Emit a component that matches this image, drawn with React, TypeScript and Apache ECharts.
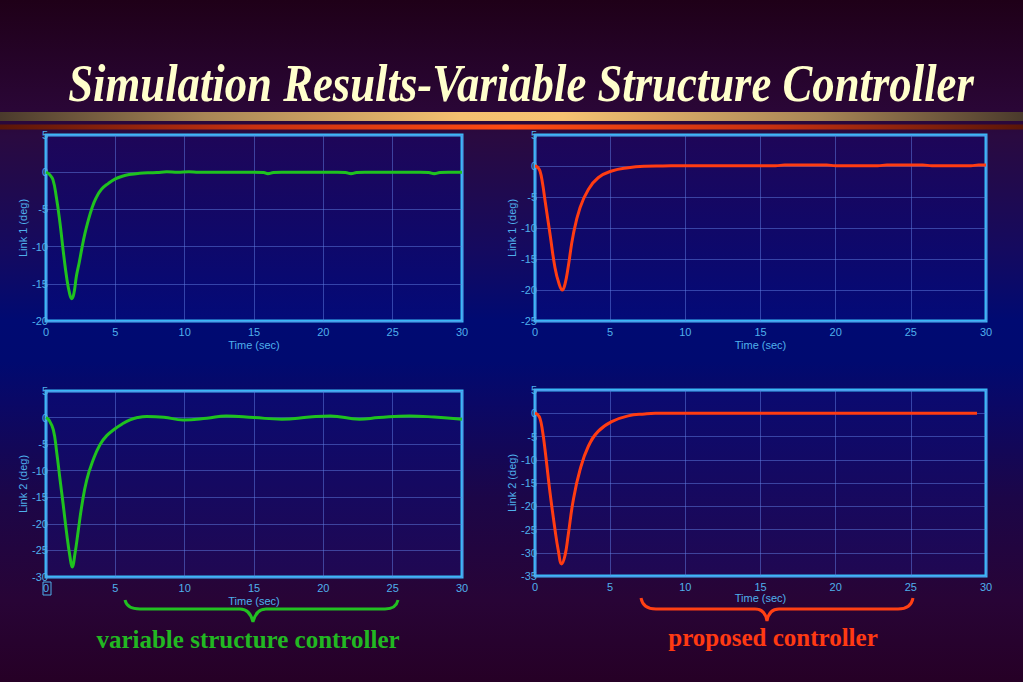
import React, { useEffect, useRef } from "react";
import * as echarts from "echarts";

// ---- data ----
const timeVscLink1 = [0, 0.25, 0.5, 0.75, 1.0, 1.25, 1.5, 1.7, 1.85, 2.0, 2.2, 2.4, 2.6, 2.8, 3.0, 3.3, 3.6, 4.0, 4.5, 5.0, 5.5, 6.0, 6.5, 7.0, 7.5, 8.0, 8.7, 9.5, 10.3, 11, 12, 13, 14, 15, 15.7, 16.0, 16.4, 17, 18, 19, 20, 21, 21.6, 22.0, 22.4, 23, 24, 25, 26, 27, 27.6, 28.0, 28.4, 29, 30];
const vscLink1 = [0, -0.3, -1.0, -3.4, -6.7, -10.7, -14.3, -16.3, -17.0, -16.4, -13.9, -12.1, -10.1, -8.3, -6.8, -4.9, -3.5, -2.3, -1.5, -0.9, -0.55, -0.32, -0.2, -0.12, -0.08, -0.05, 0.05, -0.02, 0.05, 0, 0, 0, 0, 0, -0.05, -0.2, -0.05, 0, 0, 0, 0, 0, -0.05, -0.2, -0.05, 0, 0, 0, 0, 0, -0.05, -0.2, -0.05, 0, 0];

const timePropLink1 = [0, 0.15, 0.33, 0.5, 0.67, 1.0, 1.33, 1.6, 1.82, 2.0, 2.2, 2.55, 3.0, 3.55, 4.2, 5.1, 6.2, 7.3, 8.5, 10, 12, 14, 16, 16.6, 19.4, 20, 22.8, 23.4, 25.8, 26.4, 29, 29.5, 30];
const propLink1 = [0, -0.15, -0.8, -2.8, -5.6, -11.0, -16.4, -19.0, -20.0, -19.0, -16.4, -11.0, -6.7, -3.8, -1.9, -0.8, -0.27, -0.05, 0, 0.05, 0.05, 0.05, 0.05, 0.15, 0.15, 0.05, 0.05, 0.15, 0.15, 0.05, 0.05, 0.15, 0.15];

const timeVscLink2 = [0, 0.2, 0.53, 0.77, 1.01, 1.25, 1.49, 1.73, 1.89, 2.09, 2.33, 2.57, 2.93, 3.41, 3.89, 4.38, 4.98, 5.5, 6.06, 6.6, 7.26, 8.5, 9.9, 11.6, 13, 15, 17, 19, 20.5, 22.6, 24, 26.2, 28, 30];
const vscLink2 = [0, -0.4, -2.3, -6.5, -11.6, -16.6, -21.8, -26.2, -28.1, -25.6, -21.2, -16.8, -11.8, -7.9, -5.1, -3.4, -2.1, -1.2, -0.44, 0, 0.2, 0.06, -0.44, -0.13, 0.3, 0, -0.3, 0.1, 0.3, -0.3, 0, 0.3, 0.1, -0.3];

const timePropLink2 = [0, 0.15, 0.33, 0.5, 0.67, 1.0, 1.33, 1.55, 1.77, 2.0, 2.2, 2.55, 3.0, 3.55, 4.2, 5.1, 6.2, 7.3, 8.0, 10, 15, 20, 25, 29.4];
const propLink2 = [0, -0.2, -1.1, -3.8, -7.9, -17.1, -25.0, -29.5, -32.4, -30.5, -26.4, -18.6, -12.1, -7.1, -3.9, -1.8, -0.57, -0.14, 0, 0, 0, 0, 0, 0];

const yRanges = [
  [-20, 5],
  [-25, 5],
  [-30, 5],
  [-35, 5],
];
const yNames = ["Link 1 (deg)", "Link 1 (deg)", "Link 2 (deg)", "Link 2 (deg)"];
const xName = "Time (sec)";
const titleText = "Simulation Results-Variable Structure Controller";
const leftCaption = "variable structure controller";
const rightCaption = "proposed controller";

const zip = (t: number[], v: number[]) => t.map((x, i) => [x, v[i]]);

echarts.graphic.registerShape(
  "greenBrace",
  echarts.graphic.extendPath(
    "M125,600 Q127,609 140,609 L240,609 Q250,609 253,622 Q256,609 266,609 L385,609 Q396,609 398,600",
    {}
  )
);
echarts.graphic.registerShape(
  "orangeBrace",
  echarts.graphic.extendPath(
    "M641,598 Q643,609 656,609 L755,609 Q765,609 767,621 Q769,609 779,609 L898,609 Q911,609 913,598",
    {}
  )
);

const LABEL = "#4fb0ec";
const GRIDLINE = "rgba(95,125,225,0.5)";
const GREEN = "#1fc21f";
const RED = "#ff3c12";

export default function App() {
  const ref = useRef<HTMLDivElement>(null);
  useEffect(() => {
    if (!ref.current) return;
    const chart = echarts.init(ref.current, undefined, { renderer: "svg" });

    const grids = [
      { left: 46, top: 135, width: 416, height: 186 },
      { left: 535, top: 135, width: 451, height: 186 },
      { left: 46, top: 391, width: 416, height: 186 },
      { left: 535, top: 390, width: 451, height: 186 },
    ];
    const topBg = new echarts.graphic.LinearGradient(0, 0, 0, 1, [
      { offset: 0, color: "#1e0658" },
      { offset: 1, color: "#030a78" },
    ]);
    const botBg = new echarts.graphic.LinearGradient(0, 0, 0, 1, [
      { offset: 0, color: "#0a0a70" },
      { offset: 1, color: "#200852" },
    ]);
    const nameGaps = [18, 18, 18, 11];
    const yNameGaps = [10, 12, 10, 12];

    const option: any = {
      animation: false,
      backgroundColor: new echarts.graphic.LinearGradient(0, 0, 0, 1, [
        { offset: 0, color: "#1f0018" },
        { offset: 0.16, color: "#2a0636" },
        { offset: 0.2, color: "#2a0a40" },
        { offset: 0.37, color: "#140a60" },
        { offset: 0.47, color: "#000a72" },
        { offset: 0.53, color: "#000a70" },
        { offset: 0.59, color: "#0a0866" },
        { offset: 0.73, color: "#1c0648" },
        { offset: 0.88, color: "#280436" },
        { offset: 1, color: "#260026" },
      ]),
      textStyle: { fontFamily: "Liberation Sans" },
      grid: grids.map((g, i) => ({
        ...g,
        show: true,
        borderColor: "#3ab8f6",
        borderWidth: 3,
        backgroundColor: i < 2 ? topBg : botBg,
        containLabel: false,
      })),
      xAxis: grids.map((_, i) => ({
        type: "value",
        gridIndex: i,
        min: 0,
        max: 30,
        interval: 5,
        name: xName,
        nameLocation: "middle",
        nameGap: nameGaps[i],
        nameTextStyle: { color: LABEL, fontSize: 11 },
        axisLine: { show: false },
        axisTick: { show: false },
        axisLabel: { color: LABEL, fontSize: 11, margin: 5 },
        splitLine: { show: true, lineStyle: { color: GRIDLINE, width: 1 } },
      })),
      yAxis: grids.map((_, i) => ({
        type: "value",
        gridIndex: i,
        min: yRanges[i][0],
        max: yRanges[i][1],
        interval: 5,
        name: yNames[i],
        nameLocation: "middle",
        nameGap: yNameGaps[i],
        nameTextStyle: { color: LABEL, fontSize: 11 },
        axisLine: { show: false },
        axisTick: { show: false },
        axisLabel: { color: LABEL, fontSize: 11, margin: -2 },
        splitLine: { show: true, lineStyle: { color: GRIDLINE, width: 1 } },
      })),
      series: [
        { d: zip(timeVscLink1, vscLink1), c: GREEN },
        { d: zip(timePropLink1, propLink1), c: RED },
        { d: zip(timeVscLink2, vscLink2), c: GREEN },
        { d: zip(timePropLink2, propLink2), c: RED },
      ].map((s, i) => ({
        type: "line",
        xAxisIndex: i,
        yAxisIndex: i,
        data: s.d,
        showSymbol: false,
        smooth: 0.45,
        lineStyle: { color: s.c, width: 3 },
        z: 5,
      })),
      graphic: {
        elements: [
          {
            type: "text",
            x: 521,
            y: 83,
            scaleX: 0.86,
            style: {
              text: titleText,
              x: 0,
              y: 0,
              fill: "#ffffcc",
              font: "italic bold 52px 'Liberation Serif'",
              textAlign: "center",
              textVerticalAlign: "middle",
            },
          },
          {
            type: "rect",
            shape: { x: 0, y: 112, width: 1023, height: 9 },
            style: {
              fill: new echarts.graphic.LinearGradient(0, 0, 1, 0, [
                { offset: 0, color: "#4a3a2c" },
                { offset: 0.2, color: "#a88656" },
                { offset: 0.45, color: "#f4c070" },
                { offset: 0.55, color: "#f6c272" },
                { offset: 0.8, color: "#a88656" },
                { offset: 1, color: "#4a3a2c" },
              ]),
            },
          },
          {
            type: "rect",
            shape: { x: 0, y: 124.5, width: 1023, height: 5 },
            style: {
              fill: new echarts.graphic.LinearGradient(0, 0, 1, 0, [
                { offset: 0, color: "#5a1608" },
                { offset: 0.25, color: "#c83010" },
                { offset: 0.5, color: "#ff4a12" },
                { offset: 0.75, color: "#c83010" },
                { offset: 1, color: "#5a1608" },
              ]),
            },
          },
          {
            type: "rect",
            shape: { x: 43, y: 582, width: 8, height: 13 },
            style: { fill: "none", stroke: LABEL, lineWidth: 1 },
          },
          {
            type: "greenBrace",
            x: 0,
            y: 0,
            style: { fill: "none", stroke: "#22c022", lineWidth: 3 },
          },
          {
            type: "orangeBrace",
            x: 0,
            y: 0,
            style: { fill: "none", stroke: "#ff4014", lineWidth: 3 },
          },
          {
            type: "text",
            x: 248,
            y: 639,
            style: {
              text: leftCaption,
              fill: "#22b822",
              font: "bold 25px 'Liberation Serif'",
              textAlign: "center",
              textVerticalAlign: "middle",
            },
          },
          {
            type: "text",
            x: 773,
            y: 637,
            style: {
              text: rightCaption,
              fill: "#ff3a12",
              font: "bold 25px 'Liberation Serif'",
              textAlign: "center",
              textVerticalAlign: "middle",
            },
          },
        ],
      },
    };
    chart.setOption(option);
    return () => chart.dispose();
  }, []);
  return (
    <div
      ref={ref}
      style={{ position: "fixed", left: 0, top: 0, width: 1023, height: 682 }}
    />
  );
}
